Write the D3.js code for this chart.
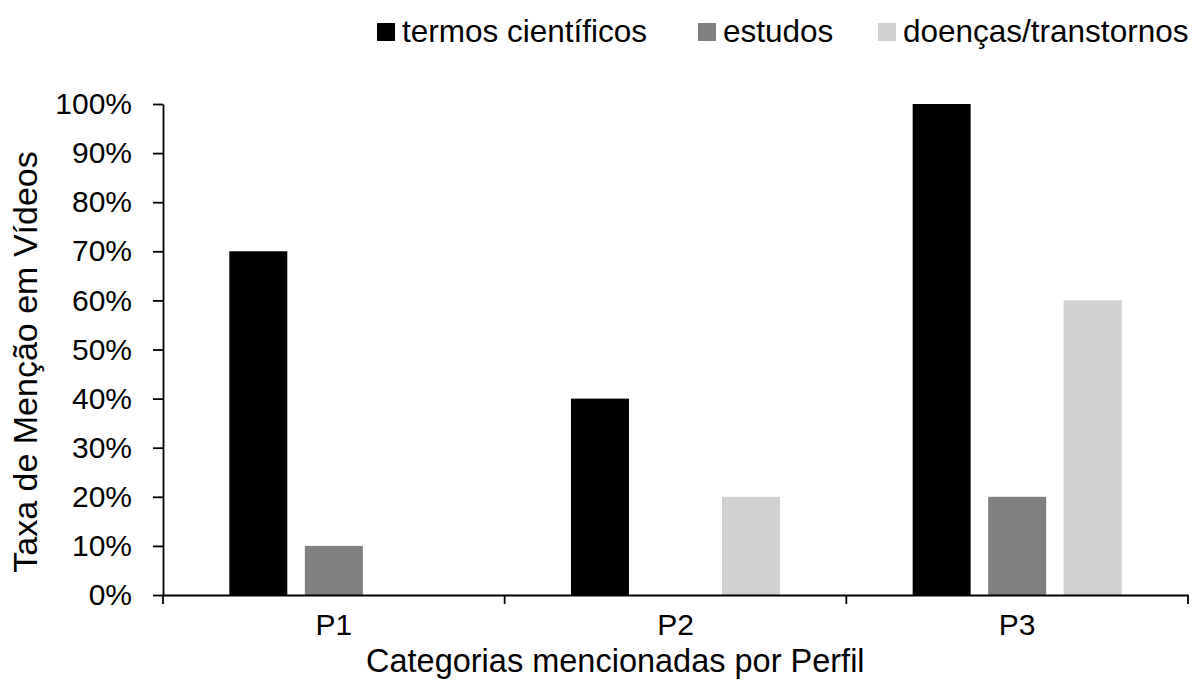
<!DOCTYPE html>
<html>
<head>
<meta charset="utf-8">
<script src="https://cdn.jsdelivr.net/npm/d3@7/dist/d3.min.js"></script>
<style>
  html, body { margin: 0; padding: 0; background: #ffffff; }
  svg { display: block; }
  text { font-family: "Liberation Sans", Arial, sans-serif; fill: #000; }
</style>
</head>
<body>
<svg id="chart" width="1195" height="680"></svg>
<script>
// ---- data ----
const categories = ["P1", "P2", "P3"];
const seriesNames = ["termos científicos", "estudos", "doenças/transtornos"];
const termosCientificos = [0.70, 0.40, 1.00];
const estudos = [0.10, 0.00, 0.20];
const doencasTranstornos = [0.00, 0.20, 0.60];
const yTicks = [0, 0.1, 0.2, 0.3, 0.4, 0.5, 0.6, 0.7, 0.8, 0.9, 1.0];
const yTitle = "Taxa de Menção em Vídeos";
const xTitle = "Categorias mencionadas por Perfil";

// ---- styles ----
const colors = ["#000000", "#808080", "#d0d0d0"];
const seriesValues = [termosCientificos, estudos, doencasTranstornos];

const svg = d3.select("#chart");
const mLeft = 163, mRight = 1188, mTop = 104, mBottom = 595;

const x0 = d3.scaleBand().domain(categories).range([mLeft, mRight]).paddingInner(0).paddingOuter(0);
const x1 = d3.scaleBand().domain(seriesNames).range([0, x0.bandwidth()])
  .paddingInner(0.232).paddingOuter(0.878);
const y = d3.scaleLinear().domain([0, 1]).range([mBottom, mTop]);

// bars
const rows = [];
categories.forEach((c, i) => {
  seriesNames.forEach((s, j) => {
    rows.push({ cat: c, series: s, value: seriesValues[j][i], color: colors[j] });
  });
});
svg.append("g").selectAll("rect").data(rows).join("rect")
  .attr("x", d => x0(d.cat) + x1(d.series))
  .attr("y", d => y(d.value))
  .attr("width", x1.bandwidth())
  .attr("height", d => y(0) - y(d.value))
  .attr("fill", d => d.color);

// y axis
const yAxis = d3.axisLeft(y).tickValues(yTicks).tickFormat(d3.format(".0%"))
  .tickSize(10).tickSizeOuter(0).tickPadding(21);
const gy = svg.append("g").attr("transform", `translate(${mLeft},0)`).call(yAxis);
gy.select(".domain").attr("stroke", "#000").attr("stroke-width", 1.8);
gy.selectAll(".tick line").attr("stroke", "#000").attr("stroke-width", 1.8);
gy.selectAll(".tick text").style("font-size", "30px").attr("fill", "#000");

// x axis
const xAxis = d3.axisBottom(x0).tickSize(0).tickSizeOuter(0).tickPadding(19);
const gx = svg.append("g").attr("transform", `translate(0,${mBottom})`).call(xAxis);
gx.select(".domain").attr("stroke", "#000").attr("stroke-width", 1.8);
gx.selectAll(".tick text").style("font-size", "30px").attr("fill", "#000").attr("dy", "0.71em");
const bounds = categories.map(c => x0(c)).concat([x0.range()[1]]);
gx.selectAll("line.bound").data(bounds).join("line")
  .attr("class", "bound")
  .attr("x1", d => d).attr("x2", d => d)
  .attr("y1", 0).attr("y2", 9)
  .attr("stroke", "#000").attr("stroke-width", 1.8);

// axis titles
svg.append("text")
  .attr("x", 366).attr("y", 672)
  .attr("text-anchor", "start")
  .style("font-size", "32.5px")
  .text(xTitle);

svg.append("text")
  .attr("transform", "translate(37,362) rotate(-90)")
  .attr("text-anchor", "middle")
  .style("font-size", "34px")
  .text(yTitle);

// legend
const legendX = [377, 698, 878];
const lg = svg.append("g");
seriesNames.forEach((s, j) => {
  lg.append("rect").attr("x", legendX[j]).attr("y", 23).attr("width", 18).attr("height", 18)
    .attr("fill", colors[j]);
  lg.append("text").attr("x", legendX[j] + 25).attr("y", 42)
    .style("font-size", "31.5px").text(s);
});
</script>
</body>
</html>
